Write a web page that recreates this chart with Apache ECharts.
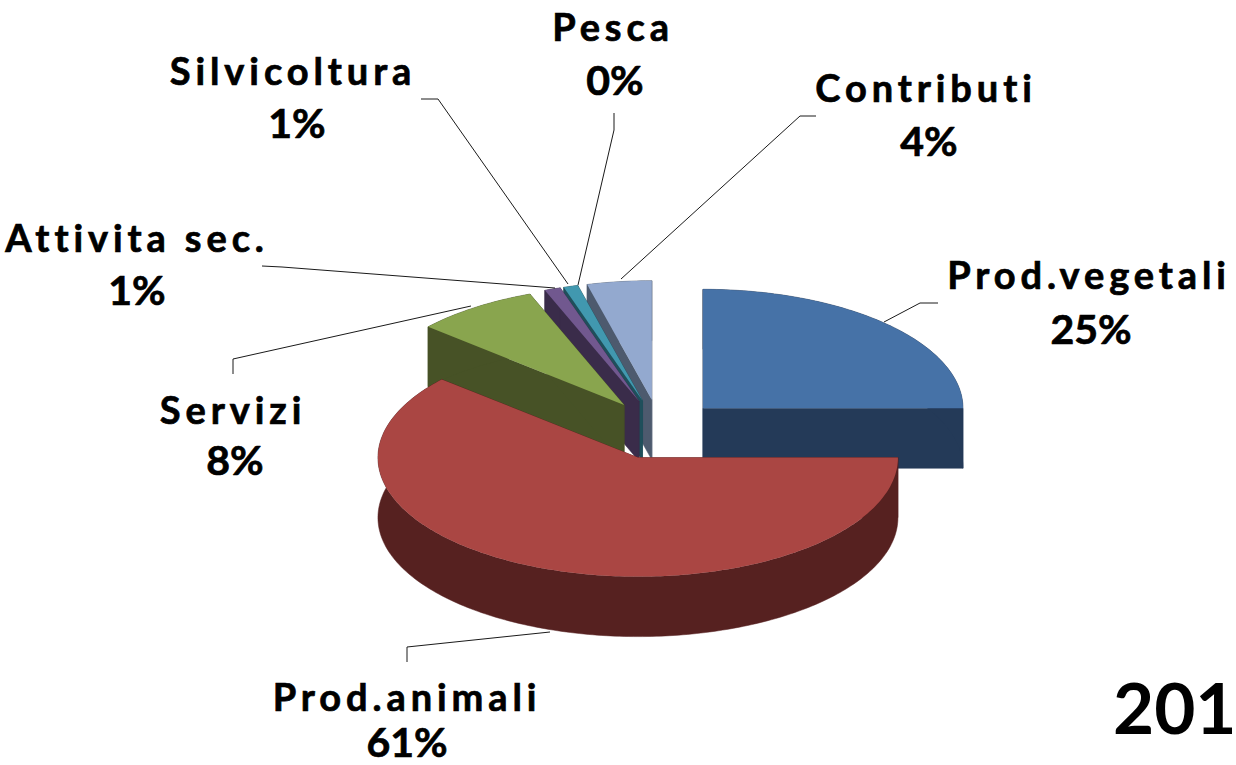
<!DOCTYPE html>
<html>
<head>
<meta charset="utf-8">
<style>
  html, body { margin: 0; padding: 0; background: #fff; }
  #chart { width: 1236px; height: 765px; }
  /* the category names are set wide, the percentages are not */
  #chart text[style*="38px"] { letter-spacing: 4.9px; }
</style>
<script src="https://cdn.jsdelivr.net/npm/echarts@6/dist/echarts.min.js"></script>
</head>
<body>
<div id="chart"></div>
<script>
  // values (the slices are rounded in the labels)
  var names = ['Prod.vegetali', 'Prod.animali', 'Servizi', 'Attivita sec.', 'Silvicoltura', 'Pesca', 'Contributi']
  var values = [25, 61.4, 7.7, 1, 0.9, 0, 4]
  var topColors = ['#4672a7', '#aa4643', '#89a54e', '#71588f', '#4198af', '#db843d', '#93a9cf']
  var wallColors = ['#243a58', '#562120', '#475226', '#3a2c4a', '#1f4f5b', '#6f431f', '#4d5a6e']

  // label centres and leader lines, in pixels
  var labelPos = [[1089, 274, 1091, 328], [407, 696, 407, 741], [233, 409, 235, 459], [137, 237, 137, 289], [293, 70, 297, 122], [613, 26, 615, 79], [926, 87, 929, 140]]
  var leaders = [
    [[884, 322], [920, 303], [938, 303]],
    [[550, 632], [407, 647], [407, 662]],
    [[471, 306], [233, 359], [233, 374]],
    [[555, 288], [282, 267], [262, 266]],
    [[568, 284], [438, 99], [421, 99]],
    [[578, 285], [614, 130], [614, 113]],
    [[621, 279], [800, 116], [816, 116]]
  ]

  // pie geometry: tilted ellipse, each slice pushed out along its middle angle
  var cx = 659.5, cy = 429.5
  var rx = 260, ry = 119, depth = 60
  var explodeX = 61.5, explodeY = 30

  var total = values.reduce(function (a, b) { return a + b }, 0)

  function rad(deg) { return deg * Math.PI / 180 }

  function renderSlice(params, api) {
    var i = params.dataIndex
    var before = 0
    for (var k = 0; k < i; k++) before += values[k]
    var start = before / total * 360
    var end = (before + api.value(0)) / total * 360
    if (end <= start) return { type: 'group', children: [] }
    var mid = (start + end) / 2
    var ax = cx + explodeX * Math.sin(rad(mid))
    var ay = cy - explodeY * Math.cos(rad(mid))
    var order = Math.round(-Math.cos(rad(mid)) * 100) + 100

    var rim = []
    for (var t = start; t < end; t += 1) {
      rim.push([ax + rx * Math.sin(rad(t)), ay - ry * Math.cos(rad(t))])
    }
    rim.push([ax + rx * Math.sin(rad(end)), ay - ry * Math.cos(rad(end))])

    function sweep(line) {
      var lower = line.map(function (p) { return [p[0], p[1] + depth] }).reverse()
      return {
        type: 'polygon', z2: order,
        shape: { points: line.concat(lower) },
        style: { fill: wallColors[i], stroke: wallColors[i], lineWidth: 0.5 }
      }
    }

    return {
      type: 'group',
      children: [
        sweep([[ax, ay], rim[0]]),
        sweep([[ax, ay], rim[rim.length - 1]]),
        sweep(rim),
        {
          type: 'polygon', z2: order + 1,
          shape: { points: [[ax, ay]].concat(rim) },
          style: { fill: topColors[i] }
        }
      ]
    }
  }

  function labelText(x, y, text, size) {
    return {
      type: 'text', x: x, y: y, z2: 300,
      style: {
        text: text, x: 0, y: 0,
        align: 'center', verticalAlign: 'middle',
        font: 'bold ' + size + 'px Lato, "Open Sans", sans-serif',
        fill: '#000', stroke: '#000', lineWidth: 0.7
      }
    }
  }

  function renderLabel(params, api) {
    var i = params.dataIndex
    var p = labelPos[i]
    return {
      type: 'group',
      children: [
        {
          type: 'polyline', z2: 250,
          shape: { points: leaders[i] },
          style: { stroke: '#1a1a1a', lineWidth: 1, fill: null }
        },
        labelText(p[0], p[1], names[i], 38),
        labelText(p[2], p[3], Math.round(api.value(0) / total * 100) + '%', 41)
      ]
    }
  }

  var chart = echarts.init(document.getElementById('chart'), null, { renderer: 'svg' })
  chart.setOption({
    animation: false,
    backgroundColor: '#fff',
    title: {
      text: '201',
      left: 1108,
      top: 666,
      textStyle: { fontFamily: 'Lato', fontWeight: 'bold', fontSize: 71, color: '#000' }
    },
    series: [
      { type: 'custom', coordinateSystem: 'none', silent: true, renderItem: renderSlice, data: values.map(function (v) { return [v] }) },
      { type: 'custom', coordinateSystem: 'none', silent: true, renderItem: renderLabel, data: values.map(function (v) { return [v] }) }
    ]
  })
</script>
</body>
</html>
